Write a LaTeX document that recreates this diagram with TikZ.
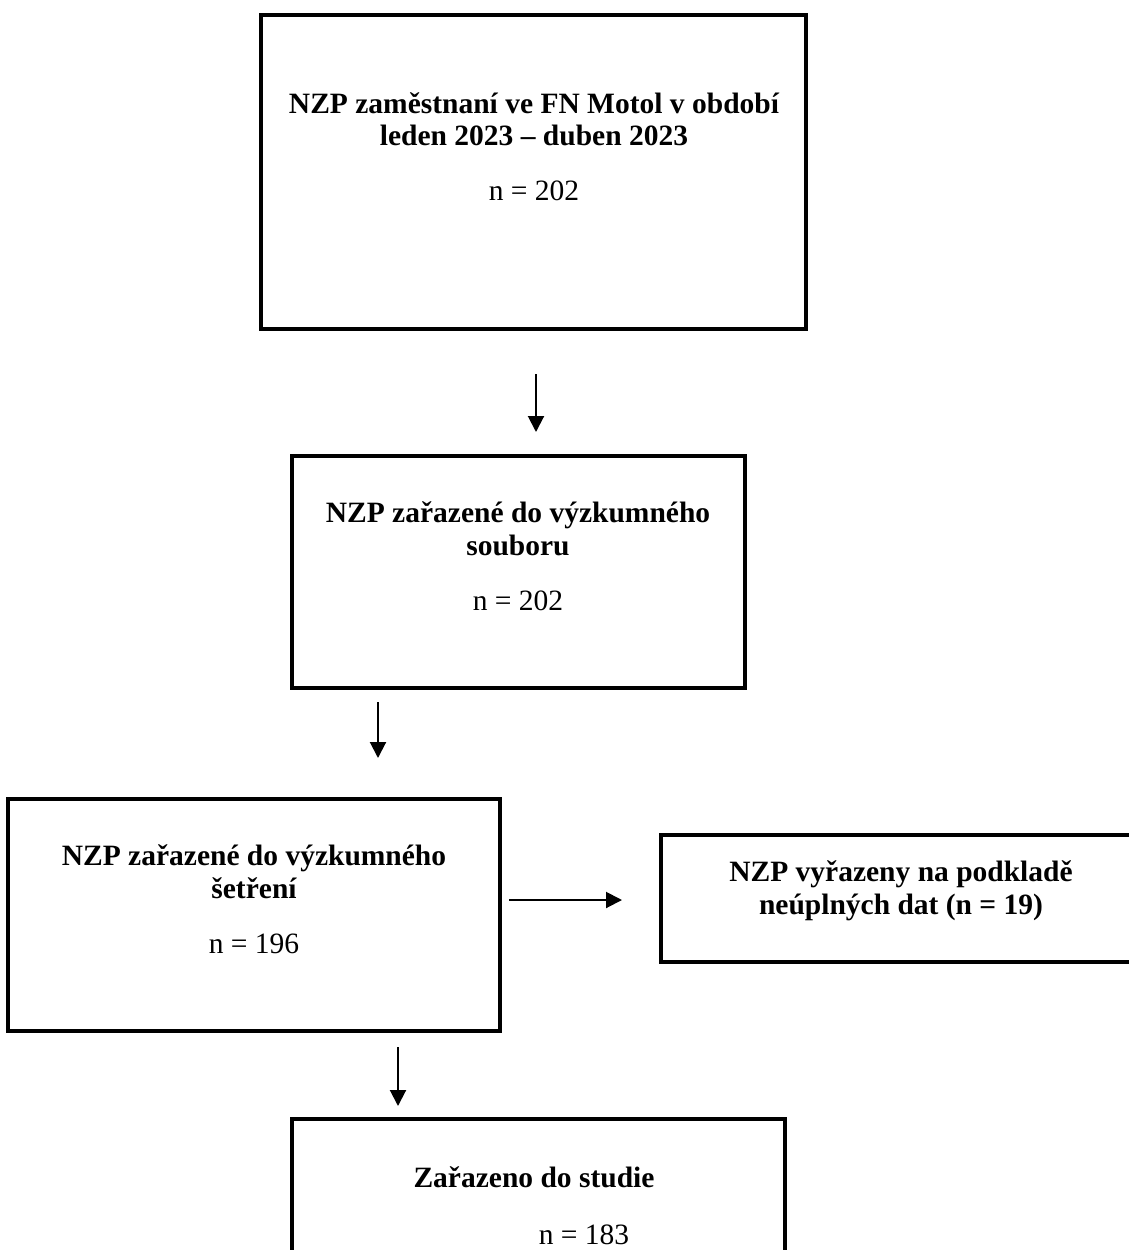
\documentclass[tikz,border=0pt]{standalone}
\usepackage{fontspec}
\setmainfont{Liberation Serif}
\usetikzlibrary{arrows.meta}
\begin{document}
\begin{tikzpicture}[x=1pt,y=-1pt,
  boxst/.style={draw,line width=4pt,rectangle,inner sep=0pt},
  hd/.style={anchor=base,inner sep=0pt,font=\fontsize{29.5}{34}\selectfont\bfseries},
  nn/.style={anchor=base,inner sep=0pt,font=\fontsize{29.5}{34}\selectfont},
  arr/.style={line width=2pt,-{Triangle[length=16pt,width=16pt]}}]
\clip (0,0) rectangle (1129,1250);
\useasboundingbox (0,0) rectangle (1129,1250);
% boxes
\node[boxst,minimum width=545pt,minimum height=314pt] (b1) at (533.5,172) {};
\node[boxst,minimum width=453pt,minimum height=232pt] (b2) at (518.5,572) {};
\node[boxst,minimum width=492pt,minimum height=232pt] (b3) at (254,915) {};
\node[boxst,minimum width=479pt,minimum height=127pt] (b4) at (900.5,898.5) {};
\node[boxst,minimum width=493pt,minimum height=181pt] (b5) at (538.5,1209.5) {};
% texts
\node[hd] (t1a) at (534,113) {NZP zaměstnaní ve FN Motol v období};
\node[hd] (t1b) at (534,145) {leden 2023 – duben 2023};
\node[nn] (n1) at (534,200) {n = 202};
\node[hd] (t2a) at (518,522) {NZP zařazené do výzkumného};
\node[hd] (t2b) at (518,555) {souboru};
\node[nn] (n2) at (518,610) {n = 202};
\node[hd] (t3a) at (254,865) {NZP zařazené do výzkumného};
\node[hd] (t3b) at (254,898) {šetření};
\node[nn] (n3) at (254,953) {n = 196};
\node[hd] (t4a) at (901,881) {NZP vyřazeny na podkladě};
\node[hd] (t4b) at (901,914) {neúplných dat (n = 19)};
\node[hd] (t5a) at (534,1187) {Zařazeno do studie};
\node[nn] (n5) at (584,1244) {n = 183};
% arrows
\coordinate (a1s) at (536,374); \coordinate (a1e) at (536,432);
\coordinate (a2s) at (378,702); \coordinate (a2e) at (378,758);
\coordinate (a3s) at (398,1047); \coordinate (a3e) at (398,1106);
\coordinate (a4s) at (509,900); \coordinate (a4e) at (622,900);
\draw[arr] (a1s) -- (a1e);
\draw[arr] (a2s) -- (a2e);
\draw[arr] (a3s) -- (a3e);
\draw[arr] (a4s) -- (a4e);
\end{tikzpicture}
\end{document}
